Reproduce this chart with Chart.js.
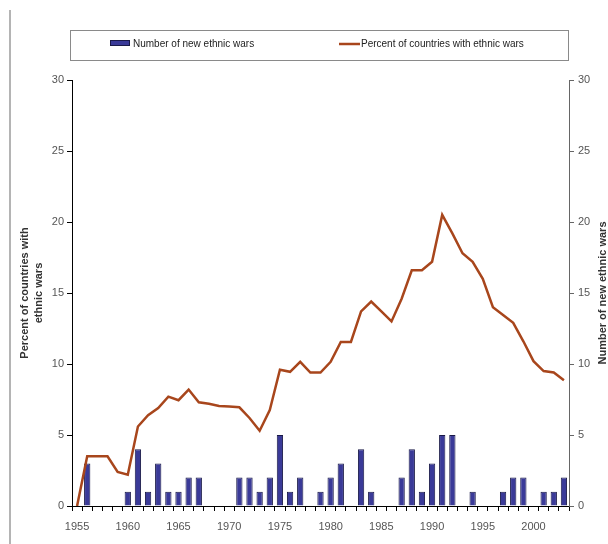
<!DOCTYPE html>
<html><head><meta charset="utf-8">
<script src="https://cdn.jsdelivr.net/npm/chart.js@4/dist/chart.umd.min.js"></script>
<style>
html,body{margin:0;padding:0;background:#fff;}
#wrap{position:relative;width:608px;height:544px;overflow:hidden;}
#edge{position:absolute;left:9px;top:10px;width:2px;height:534px;background:#b4b4b4;}
canvas{position:absolute;left:0;top:0;}
</style></head><body>
<div id="wrap"><div id="edge"></div><canvas id="c" width="608" height="544"></canvas></div>
<script>
const years = [1955,1956,1957,1958,1959,1960,1961,1962,1963,1964,1965,1966,1967,1968,1969,
  1970,1971,1972,1973,1974,1975,1976,1977,1978,1979,1980,1981,1982,1983,1984,
  1985,1986,1987,1988,1989,1990,1991,1992,1993,1994,1995,1996,1997,1998,1999,
  2000,2001,2002,2003];
const labeledYears = [1955,1960,1965,1970,1975,1980,1985,1990,1995,2000];
const newWars = [0,3,0,0,0,1,4,1,3,1,1,2,2,0,0,
  0,2,2,1,2,5,1,2,0,1,2,3,0,4,1,
  0,0,2,4,1,3,5,5,0,1,0,0,1,2,2,
  0,1,1,2];
const percentWars = [0,3.5,3.5,3.5,2.4,2.2,5.6,6.4,6.9,7.7,7.45,8.2,7.3,7.2,7.05,
  7.0,6.95,6.2,5.3,6.75,9.6,9.45,10.15,9.4,9.4,10.15,11.55,11.55,13.7,14.4,
  13.7,13.0,14.6,16.6,16.6,17.2,20.5,19.2,17.8,17.2,16.0,14.0,13.45,12.9,11.6,
  10.2,9.5,9.4,8.85];
const axisTicks = [0,5,10,15,20,25,30];
const seriesLabels = ['Number of new ethnic wars','Percent of countries with ethnic wars'];
const leftTitle = ['Percent of countries with','ethnic wars'];
const rightTitle = 'Number of new ethnic wars';

const barColor = '#3a3a98';
const barEdge = '#1a1a48';
const lineColor = '#a8461c';
const FONT = 'Liberation Sans, Arial, sans-serif';

const decor = {
  id: 'decor',
  afterDraw(chart) {
    const ctx = chart.ctx;
    const ca = chart.chartArea;
    ctx.save();
    // legend frame
    ctx.strokeStyle = '#8a8a8a';
    ctx.lineWidth = 1;
    ctx.strokeRect(70.5, 30.5, 498, 30);
    ctx.font = '10px ' + FONT;
    ctx.fillStyle = '#222';
    ctx.textBaseline = 'middle';
    ctx.textAlign = 'left';
    // bar swatch
    ctx.fillStyle = barColor;
    ctx.fillRect(110, 40, 20, 6);
    ctx.strokeStyle = barEdge;
    ctx.strokeRect(110.5, 40.5, 19, 5);
    ctx.fillStyle = '#222';
    ctx.fillText(chart.data.datasets[0].label, 133, 44);
    // line swatch
    ctx.strokeStyle = lineColor;
    ctx.lineWidth = 2.5;
    ctx.beginPath(); ctx.moveTo(339, 44); ctx.lineTo(360, 44); ctx.stroke();
    ctx.fillText(chart.data.datasets[1].label, 361, 44);
    // right title (reads bottom to top)
    ctx.translate(603, (ca.top + ca.bottom) / 2);
    ctx.rotate(-Math.PI / 2);
    ctx.font = 'bold 11px ' + FONT;
    ctx.fillStyle = '#333';
    ctx.textAlign = 'center';
    ctx.fillText(rightTitle, 0, 0);
    ctx.restore();
  }
};

new Chart(document.getElementById('c'), {
  type: 'bar',
  data: {
    labels: years.map(String),
    datasets: [
      { type: 'bar', label: seriesLabels[0], data: newWars, yAxisID: 'y1',
        backgroundColor: barColor, borderColor: barEdge, borderWidth: 1,
        barPercentage: 0.62, categoryPercentage: 1, order: 1 },
      { type: 'line', label: seriesLabels[1], data: percentWars, yAxisID: 'y',
        borderColor: lineColor, borderWidth: 2.5, pointRadius: 0, tension: 0,
        fill: false, order: 0 }
    ]
  },
  options: {
    responsive: false,
    animation: false,
    layout: { padding: { top: 80, left: 0, right: 0, bottom: 0 } },
    plugins: { legend: { display: false }, tooltip: { enabled: false } },
    scales: {
      x: {
        offset: true,
        grid: { display: true, drawOnChartArea: false, drawTicks: true, tickLength: 5, color: '#000', offset: true },
        border: { display: true, color: '#000', width: 1 },
        ticks: { autoSkip: false, maxRotation: 0, minRotation: 0, color: '#555',
          font: { family: FONT, size: 11 }, padding: 9,
          callback: (v, i) => labeledYears.includes(years[i]) ? String(years[i]) : '' },
        afterFit: s => { s.height = 38; }
      },
      y: {
        position: 'left', min: 0, max: 30,
        afterBuildTicks: s => { s.ticks = axisTicks.map(v => ({ value: v })); },
        grid: { drawOnChartArea: false, drawTicks: true, tickLength: 5, color: '#000' },
        border: { display: true, color: '#000', width: 1 },
        ticks: { color: '#555', font: { family: FONT, size: 11 }, padding: 3 },
        title: { display: true, text: leftTitle, color: '#333',
          font: { family: FONT, size: 11, weight: 'bold', lineHeight: 1.27 },
          padding: { top: 18, bottom: 0 } },
        afterFit: s => { s.width = 72; }
      },
      y1: {
        position: 'right', min: 0, max: 30,
        afterBuildTicks: s => { s.ticks = axisTicks.map(v => ({ value: v })); },
        grid: { drawOnChartArea: false, drawTicks: true, tickLength: 5, color: '#666' },
        border: { display: true, color: '#666', width: 1 },
        ticks: { color: '#555', font: { family: FONT, size: 11 }, padding: 4 },
        afterFit: s => { s.width = 39; }
      }
    }
  },
  plugins: [decor]
});
</script>
</body></html>
